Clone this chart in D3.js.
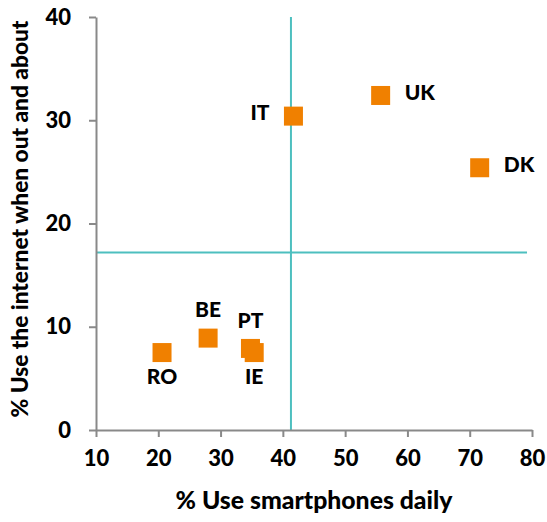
<!DOCTYPE html>
<html>
<head>
<meta charset="utf-8">
<script src="https://cdn.jsdelivr.net/npm/d3@7"></script>
<style>
  html, body { margin: 0; padding: 0; background: #fff; }
  svg { display: block; font-family: Lato, "Open Sans", sans-serif; font-weight: 900; }
</style>
</head>
<body>
<svg id="chart" width="547" height="522"></svg>
<script>
// Country codes and their survey values
const countries = ["IT", "UK", "DK", "RO", "BE", "PT", "IE"];
const smartphoneDaily = [41.7, 55.7, 71.6, 20.6, 28.0, 34.8, 35.4];
const internetOutAbout = [30.4, 32.4, 25.4, 7.5, 8.9, 7.9, 7.5];
// Where each label sits relative to its marker
const labelSide = ["left", "right", "right", "below", "above", "above", "below"];

// Average reference lines
const avgSmartphone = 41.3;
const avgInternet = 17.2;

const xTicks = [10, 20, 30, 40, 50, 60, 70, 80];
const yTicks = [0, 10, 20, 30, 40];

const svg = d3.select("#chart");
const x = d3.scaleLinear().domain([10, 80]).range([96, 532]);
const y = d3.scaleLinear().domain([0, 40]).range([430, 17]);

const axisColor = "#898989";
const teal = "#4dbfbf";
const orange = "#f08000";

// Reference lines
svg.append("line")
  .attr("x1", x(avgSmartphone)).attr("x2", x(avgSmartphone))
  .attr("y1", y(40)).attr("y2", y(0))
  .attr("stroke", teal).attr("stroke-width", 2);
svg.append("line")
  .attr("x1", x(10)).attr("x2", x(79.2))
  .attr("y1", y(avgInternet)).attr("y2", y(avgInternet))
  .attr("stroke", teal).attr("stroke-width", 2);

// Axes
const xAxis = svg.append("g")
  .attr("transform", `translate(0,${y(0)})`)
  .call(d3.axisBottom(x).tickValues(xTicks).tickSize(7).tickPadding(13).tickSizeOuter(0));
const yAxis = svg.append("g")
  .attr("transform", `translate(${x(10)},0)`)
  .call(d3.axisLeft(y).tickValues(yTicks).tickSize(7).tickPadding(18).tickSizeOuter(0));

[xAxis, yAxis].forEach(g => {
  g.select(".domain").attr("stroke", axisColor).attr("stroke-width", 2);
  g.selectAll(".tick line").attr("stroke", axisColor).attr("stroke-width", 2);
  g.selectAll(".tick text")
    .attr("fill", "#000")
    .style("font-family", "Lato, 'Open Sans', sans-serif")
    .style("font-weight", "900")
    .style("font-size", "22px");
});
xAxis.selectAll(".tick text").attr("dy", "0.71em");

// Size a title so it spans the given width
function fitText(sel, width) {
  sel.style("font-size", "20px");
  const w = sel.node().getComputedTextLength();
  sel.style("font-size", (20 * width / w).toFixed(2) + "px");
}

// Axis titles
const xTitle = svg.append("text")
  .attr("x", 314).attr("y", 509)
  .attr("text-anchor", "middle")
  .text("% Use smartphones daily");
fitText(xTitle, 277);
const yTitle = svg.append("text")
  .attr("transform", "translate(28,219) rotate(-90)")
  .attr("text-anchor", "middle")
  .text("% Use the internet when out and about");
fitText(yTitle, 397);

// Markers
const data = countries.map((c, i) => ({
  code: c, xv: smartphoneDaily[i], yv: internetOutAbout[i], side: labelSide[i]
}));
const size = 19;
svg.append("g").selectAll("rect")
  .data(data)
  .join("rect")
  .attr("x", d => x(d.xv) - size / 2)
  .attr("y", d => y(d.yv) - size / 2)
  .attr("width", size).attr("height", size)
  .attr("fill", orange);

// Labels
svg.append("g").selectAll("text")
  .data(data)
  .join("text")
  .attr("x", d => d.side === "left" ? x(d.xv) - 24 : d.side === "right" ? x(d.xv) + 24 : x(d.xv))
  .attr("y", d => d.side === "above" ? y(d.yv) - 28 : d.side === "below" ? y(d.yv) + 24 : y(d.yv) - 3)
  .attr("text-anchor", d => d.side === "left" ? "end" : d.side === "right" ? "start" : "middle")
  .attr("dy", "0.35em")
  .style("font-size", "21px")
  .text(d => d.code);
</script>
</body>
</html>
